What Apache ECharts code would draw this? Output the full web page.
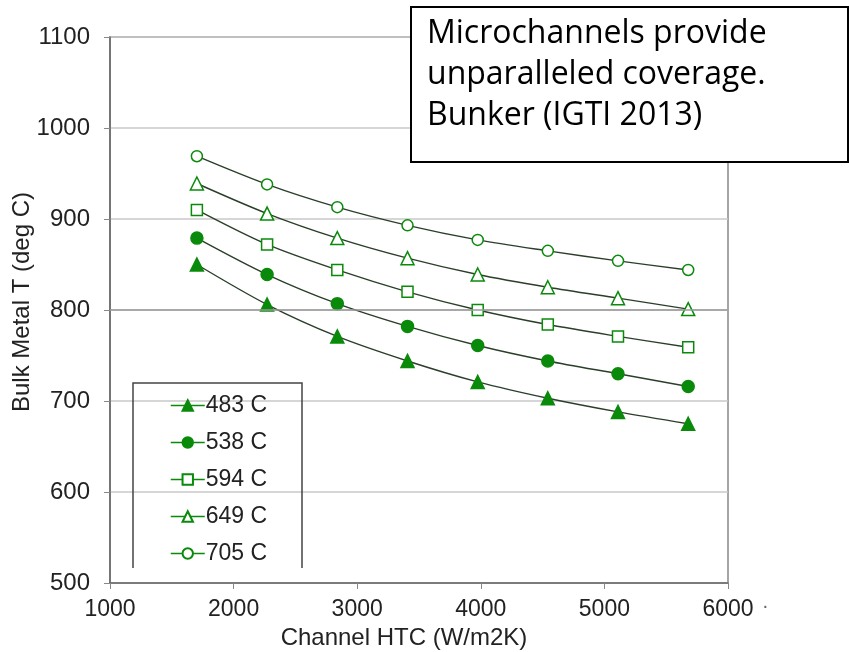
<!DOCTYPE html>
<html><head><meta charset="utf-8">
<script src="https://cdn.jsdelivr.net/npm/echarts@6/dist/echarts.min.js"></script>
<style>html,body{margin:0;padding:0;background:#fff}#c{width:850px;height:652px}</style>
</head><body><div id="c"></div>
<script>
const htc = [1703, 2271, 2839, 3407, 3975, 4542, 5110, 5678];
const s483 = [850, 806, 771, 744, 721, 703, 688, 675];
const s538 = [879, 839, 807, 782, 761, 744, 730, 716];
const s594 = [910, 872, 844, 820, 800, 784, 771, 759];
const s649 = [939, 906, 879, 857, 839, 825, 813, 801];
const s705 = [969, 938, 913, 893, 877, 865, 854, 844];
const names = ['483 C', '538 C', '594 C', '649 C', '705 C'];
const xTicks = [1000, 2000, 3000, 4000, 5000, 6000];
const yTicks = [500, 600, 700, 800, 900, 1000, 1100];
const yTitle = 'Bulk Metal T (deg C)';
const noteLines = ['Microchannels provide', 'unparalleled coverage.', 'Bunker (IGTI 2013)'];

const green = '#0a8a0a';
const lineCol = '#2b3f2b';
const font = 'Liberation Sans, Arial, sans-serif';
function pairs(ys){ return htc.map((x,i)=>[x, ys[i]]); }
function ser(name, ys, symbol, filled, size){
  return {
    name, type:'line', data: pairs(ys), smooth: 0.3,
    symbol, symbolSize: size,
    lineStyle:{color:lineCol, width:1.4},
    itemStyle:{color: filled ? green : '#fff', borderColor: green, borderWidth: 1.5},
    emphasis:{disabled:true}
  };
}
const series = [
  ser(names[0], s483, 'triangle', true, 13),
  ser(names[1], s538, 'circle', true, 12),
  ser(names[2], s594, 'rect', false, 11),
  ser(names[3], s649, 'triangle', false, 13),
  ser(names[4], s705, 'circle', false, 11)
];
series[0].markLine = {silent:true, symbol:'none', label:{show:false},
  lineStyle:{color:'#999', width:1.5, type:'solid'}, data:[{yAxis:800}]};
const chart = echarts.init(document.getElementById('c'), null, {renderer:'canvas'});
chart.setOption({
  animation:false,
  backgroundColor:'#fff',
  grid:{left:110, right:122, top:37, bottom:69, show:true, borderColor:'#888', borderWidth:1.5,
    containLabel:false, outerBoundsMode:'none'},
  xAxis:{type:'value', min:1000, max:6000, interval:1000,
    name:'Channel HTC (W/m2K)', nameLocation:'middle', nameGap:42,
    nameTextStyle:{fontFamily:font, fontSize:24, color:'#222', padding:[0,30,0,0]},
    axisLine:{show:true, lineStyle:{color:'#666', width:1.5}},
    axisTick:{show:true, length:6, lineStyle:{color:'#888'}},
    axisLabel:{fontFamily:font, fontSize:23, color:'#222', margin:15,
      formatter: v => xTicks.includes(v) ? String(v) : ''},
    splitLine:{show:false}},
  yAxis:{type:'value', min:500, max:1100, interval:100,
    axisLine:{show:true, lineStyle:{color:'#666', width:1.5}},
    axisTick:{show:true, length:6, lineStyle:{color:'#888'}},
    axisLabel:{fontFamily:font, fontSize:24, color:'#222', margin:20,
      formatter: v => yTicks.includes(v) ? String(v) : ''},
    splitLine:{show:true, lineStyle:{color:'#c8c8c8', width:1.5}}},
  legend:{orient:'vertical', left:165, top:389, itemWidth:34, itemHeight:13, itemGap:14,
    data: names,
    textStyle:{fontFamily:font, fontSize:23, color:'#222', padding:[0,0,0,-4]},
    lineStyle:{color:green, width:1.5}},
  series,
  graphic:[
    {type:'text', x:22, y:302, rotation:Math.PI/2,
      style:{text:yTitle, font:'24px "Liberation Sans", Arial, sans-serif', fill:'#222', align:'center', verticalAlign:'middle'}},
    {type:'polyline', z:10, shape:{points:[[133,568],[133,383],[302,383],[302,568]]}, style:{stroke:'#444', lineWidth:1.5, fill:null}},
    {type:'rect', z:20, shape:{x:411, y:7, width:437, height:155}, style:{fill:'#fff', stroke:'#000', lineWidth:2}},
    {type:'text', z:21, left:427, top:13, style:{text: noteLines.join('\n'), font:'32px "Open Sans", sans-serif', lineHeight:41, fill:'#000'}},
    {type:'text', z:21, left:762, top:596, style:{text:'·', font:'20px sans-serif', fill:'#666'}}
  ]
});
</script></body></html>
